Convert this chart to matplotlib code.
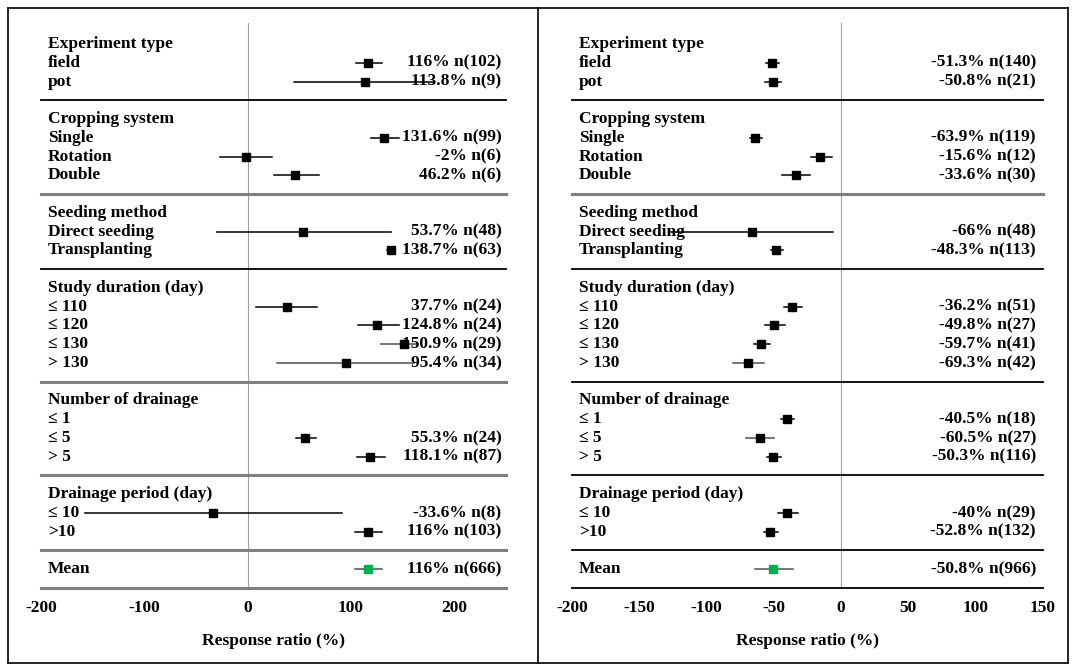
import matplotlib
matplotlib.use("Agg")
import matplotlib.pyplot as plt
from matplotlib.lines import Line2D
import numpy as np

plt.rcParams['font.family'] = ['Liberation Serif', 'DejaVu Serif']
plt.rcParams['font.weight'] = 'bold'
plt.rcParams['axes.labelweight'] = 'bold'

groups = ["Experiment type", "Cropping system", "Seeding method",
          "Study duration (day)", "Number of drainage", "Drainage period (day)"]
items = [["field", "pot"],
         ["Single", "Rotation", "Double"],
         ["Direct seeding", "Transplanting"],
         ["\u2264 110", "\u2264 120", "\u2264 130", "> 130"],
         ["\u2264 1", "\u2264 5", "> 5"],
         ["\u2264 10", ">10"]]

# left panel
left_est = [116, 113.8, 131.6, -2, 46.2, 53.7, 138.7, 37.7, 124.8, 150.9, 95.4,
            np.nan, 55.3, 118.1, -33.6, 116]
left_lo = [105, 45, 119, -26.5, 25, -29.5, 135, 8.5, 106.5, 129, 28,
           np.nan, 46.4, 105.7, -157.8, 104]
left_hi = [130, 180, 146, 24, 69, 138.5, 142, 67.5, 146, 165, 161,
           np.nan, 66.5, 132.8, 91.6, 130]
left_n = [102, 9, 99, 6, 6, 48, 63, 24, 24, 29, 34, None, 24, 87, 8, 103]
left_mean = (116, 104, 130, 666)

# right panel
right_est = [-51.3, -50.8, -63.9, -15.6, -33.6, -66, -48.3, -36.2, -49.8, -59.7,
             -69.3, -40.5, -60.5, -50.3, -40, -52.8]
right_lo = [-55.8, -56.5, -68, -22, -44, -126, -52, -42.7, -56.5, -65, -80.6,
            -44.8, -70.7, -55, -46.6, -57]
right_hi = [-46, -44.8, -58.4, -6.8, -23, -5.8, -43, -29, -42, -53, -57.6,
            -34.8, -49.7, -44.8, -32.2, -47]
right_n = [140, 21, 119, 12, 30, 48, 113, 51, 27, 41, 42, 18, 27, 116, 29, 132]
right_mean = (-50.8, -64, -36, 966)

fig = plt.figure(figsize=(10.79, 6.71), dpi=100)

GRAY = "#7f7f7f"
FS = 12.5


def panel(ax, est, lo, hi, ns, mean, xlim, ticks, sep_styles, gray_rows, label_x):
    tr = ax.get_yaxis_transform()
    row = 0
    k = 0
    seps = []
    for g, its in zip(groups, items):
        ax.text(0.015, row, g, transform=tr, ha="left", va="center", fontsize=FS)
        for it in its:
            row += 1
            ax.text(0.015, row, it, transform=tr, ha="left", va="center", fontsize=FS)
            if not np.isnan(est[k]):
                c = "#505050" if k in gray_rows else "black"
                ax.plot([lo[k], hi[k]], [row, row], color=c, lw=1.1, zorder=2)
                ax.plot(est[k], row, marker="s", color="black", ms=5.5, zorder=3)
                ax.text(label_x, row, "{:g}% n({})".format(est[k], ns[k]),
                        transform=tr, ha="right", va="center", fontsize=FS)
            k += 1
        row += 1
        seps.append(row)
        row += 1
    # mean row
    m, mlo, mhi, mn = mean
    ax.plot([mlo, mhi], [row, row], color="#505050", lw=1.1, zorder=2)
    ax.plot(m, row, marker="s", color="#00b050", ms=5.5, zorder=3)
    ax.text(0.015, row, "Mean", transform=tr, ha="left", va="center", fontsize=FS)
    ax.text(label_x, row, "{:g}% n({})".format(m, mn),
            transform=tr, ha="right", va="center", fontsize=FS)
    seps.append(row + 1)
    for y, (c, w) in zip(seps, sep_styles):
        ax.axhline(y, color=c, lw=w, zorder=1, clip_on=False)
    ax.plot([0, 0], [-1.12, row + 1], color="#a0a0a0", lw=0.8, zorder=0)
    ax.set_xlim(*xlim)
    ax.set_ylim(row + 1, -1.12)
    ax.set_yticks([])
    ax.set_xticks(ticks)
    ax.set_xticklabels([str(t) for t in ticks], fontsize=FS)
    ax.tick_params(axis="x", length=0, pad=9)
    for s in ax.spines.values():
        s.set_visible(False)
    ax.set_xlabel("Response ratio (%)", fontsize=FS, labelpad=12)
    ax.patch.set_alpha(0)


axl = fig.add_axes([0.038, 0.1237, 0.431, 0.842])
axr = fig.add_axes([0.530, 0.1237, 0.4366, 0.842])

bk = ("black", 1.3)
gr = (GRAY, 2.2)
panel(axl, left_est, left_lo, left_hi, left_n, left_mean, (-200, 250),
      [-200, -100, 0, 100, 200], [bk, gr, bk, gr, gr, gr, gr], [9, 10], 0.99)
panel(axr, right_est, right_lo, right_hi, right_n, right_mean, (-200, 150),
      [-200, -150, -100, -50, 0, 50, 100, 150], [bk, gr, bk, bk, bk, bk, bk],
      [10, 12], 0.985)

# outer frame and divider
W, H = 1079, 671
for xs, ys in [((8, 1068), (8, 8)), ((8, 1068), (663, 663)), ((8, 8), (8, 663)),
               ((1068, 1068), (8, 663)), ((538, 538), (8, 663))]:
    fig.add_artist(Line2D([x / W for x in xs], [1 - y / H for y in ys],
                          color="black", lw=1.2))

fig.savefig("out.png", dpi=100)
